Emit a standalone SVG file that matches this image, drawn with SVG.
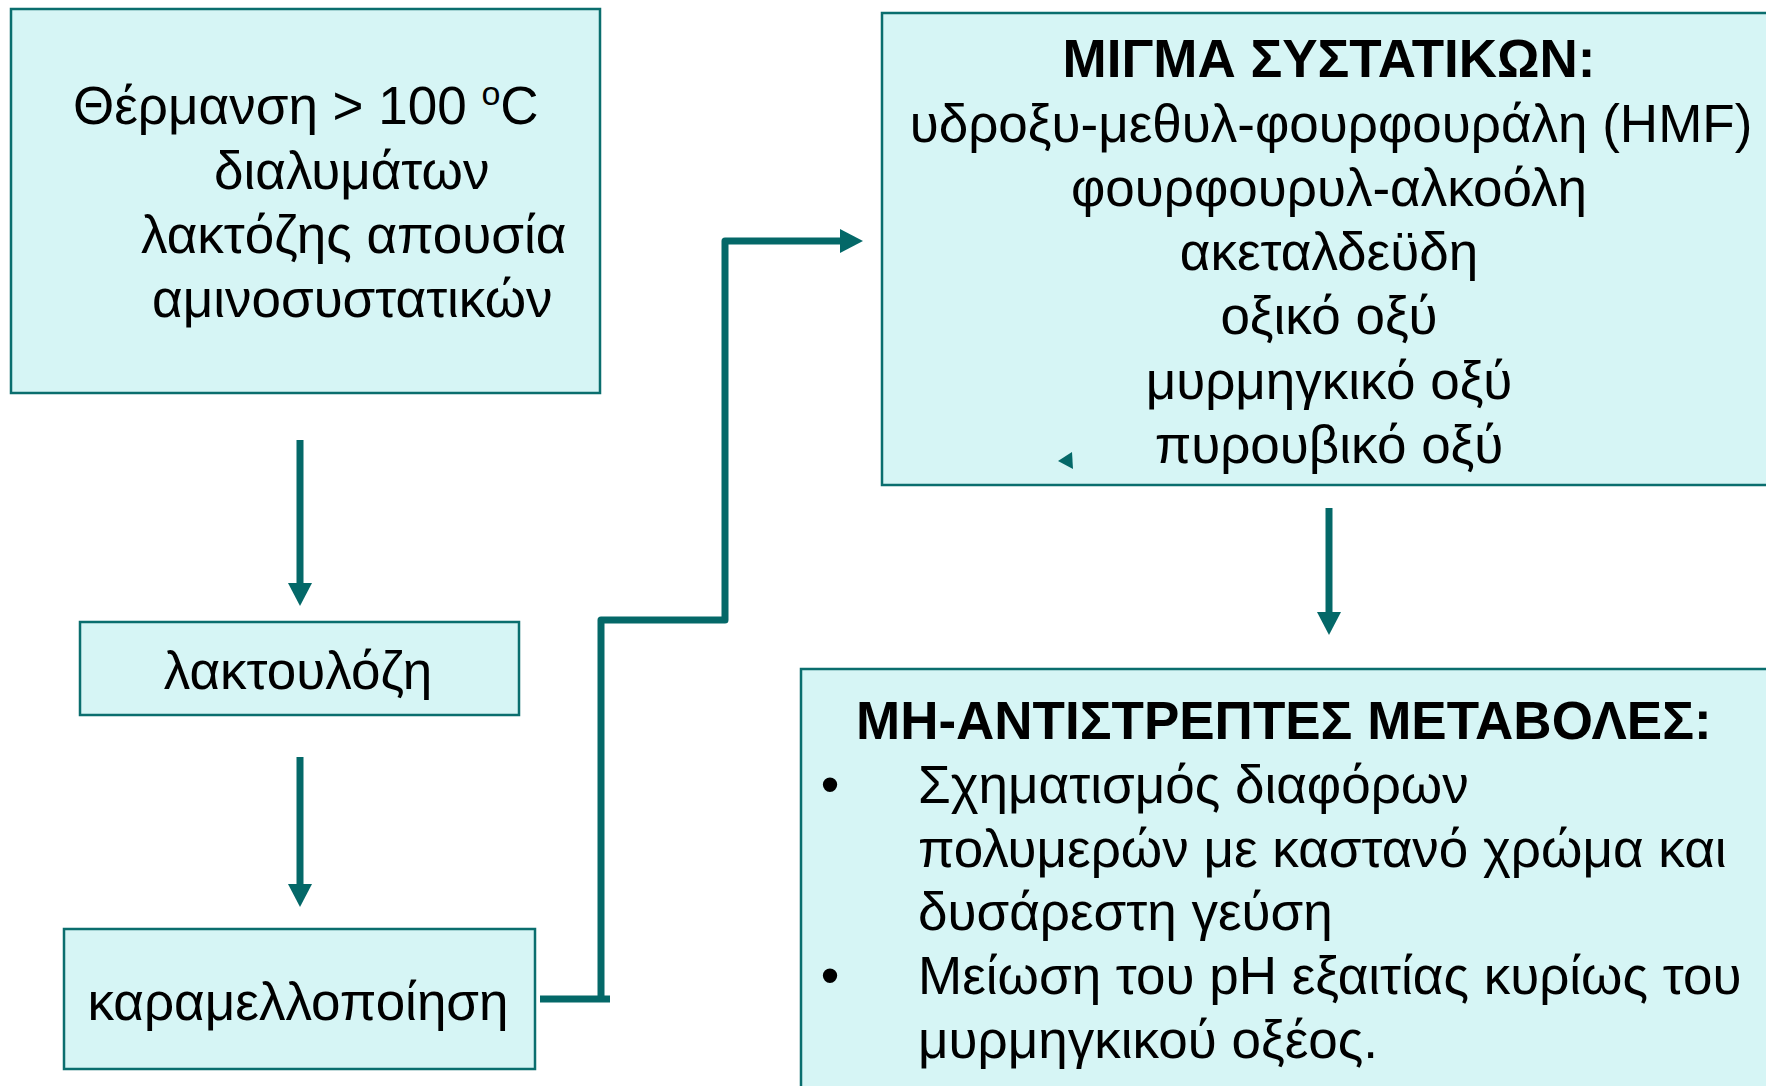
<svg xmlns="http://www.w3.org/2000/svg" width="1766" height="1086" viewBox="0 0 1766 1086">
<defs>
<style>
.box{fill:#D6F5F5;stroke:#0A6E6E;stroke-width:2.5}
.t{font-family:"Liberation Sans",Arial,sans-serif;font-size:53px;fill:#000}
.b{font-weight:bold}
.c{stroke:#046868;stroke-width:7;fill:none}
</style>
<marker id="ah" viewBox="0 0 23 24" markerWidth="23" markerHeight="24" refX="0" refY="12" orient="auto" markerUnits="userSpaceOnUse">
<path d="M0,0 L23,12 L0,24 z" fill="#046868"/>
</marker>
</defs>
<rect width="1766" height="1086" fill="#fff"/>
<g id="n1">
<rect class="box" x="11" y="9" width="589" height="384"/>
<text class="t" x="73" y="124">Θέρμανση &gt; 100 <tspan font-size="34" dy="-19">ο</tspan><tspan dy="19">C</tspan></text>
<text class="t" x="214" y="189">διαλυμάτων</text>
<text class="t" x="141" y="253">λακτόζης απουσία</text>
<text class="t" x="152" y="317">αμινοσυστατικών</text>
</g>
<g id="n2">
<rect class="box" x="80" y="622" width="439" height="93"/>
<text class="t" x="298" y="689" text-anchor="middle">λακτουλόζη</text>
</g>
<g id="n3">
<rect class="box" x="64" y="929" width="471" height="140"/>
<text class="t" x="298" y="1020" text-anchor="middle">καραμελλοποίηση</text>
</g>
<g id="n4">
<rect class="box" x="882" y="13" width="900" height="472"/>
<text class="t b" x="1329" y="77" text-anchor="middle">ΜΙΓΜΑ ΣΥΣΤΑΤΙΚΩΝ:</text>
<text class="t" x="1331" y="142" text-anchor="middle">υδροξυ-μεθυλ-φουρφουράλη (HMF)</text>
<text class="t" x="1329" y="206" text-anchor="middle">φουρφουρυλ-αλκοόλη</text>
<text class="t" x="1329" y="270" text-anchor="middle">ακεταλδεϋδη</text>
<text class="t" x="1329" y="334" text-anchor="middle">οξικό οξύ</text>
<text class="t" x="1329" y="399" text-anchor="middle">μυρμηγκικό οξύ</text>
<text class="t" x="1329" y="463" text-anchor="middle">πυρουβικό οξύ</text>
<polygon points="1058,461 1072,452 1073,469" fill="#046868"/>
</g>
<g id="n5">
<rect class="box" x="801" y="669" width="990" height="440"/>
<text class="t b" x="856" y="739">ΜΗ-ΑΝΤΙΣΤΡΕΠΤΕΣ ΜΕΤΑΒΟΛΕΣ:</text>
<text class="t" x="830" y="803" text-anchor="middle">•</text>
<text class="t" x="918" y="803">Σχηματισμός διαφόρων</text>
<text class="t" x="918" y="867">πολυμερών με καστανό χρώμα και</text>
<text class="t" x="918" y="930">δυσάρεστη γεύση</text>
<text class="t" x="830" y="994" text-anchor="middle">•</text>
<text class="t" x="918" y="994">Μείωση του pH εξαιτίας κυρίως του</text>
<text class="t" x="918" y="1058">μυρμηγκικού οξέος.</text>
</g>
<g id="connectors">
<path class="c" d="M300,440 V583" marker-end="url(#ah)"/>
<path class="c" d="M300,757 V884" marker-end="url(#ah)"/>
<path class="c" d="M1329,508 V612" marker-end="url(#ah)"/>
<path class="c" d="M540,999 H610"/>
<path class="c" d="M601,999 V620 H725 V241 H840" stroke-linejoin="round" marker-end="url(#ah)"/>
</g>
</svg>
